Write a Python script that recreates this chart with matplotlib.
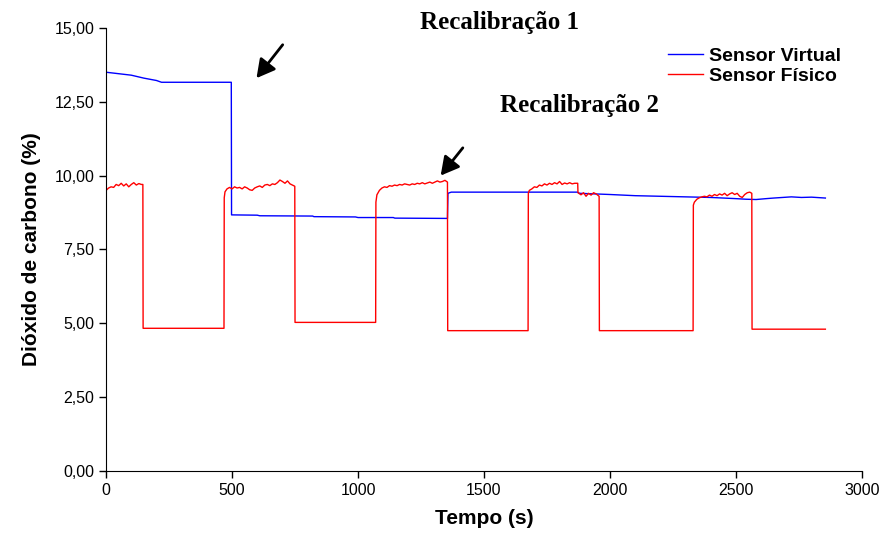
import numpy as np
import matplotlib
matplotlib.use("Agg")
import matplotlib.pyplot as plt

# Sensor virtual (blue) - time (s) and CO2 (%)
t_virtual = [0, 50, 100, 150, 200, 220, 497, 498, 600, 610, 820, 825, 990, 1000,
             1140, 1146, 1355, 1357, 1370, 1870, 1880, 2000, 2100, 2300, 2400,
             2500, 2540, 2580, 2620, 2650, 2720, 2760, 2800, 2855]
co2_virtual = [13.50, 13.45, 13.40, 13.30, 13.22, 13.16, 13.16, 8.67, 8.66, 8.64,
               8.63, 8.61, 8.60, 8.58, 8.58, 8.56, 8.55, 9.40, 9.44, 9.44, 9.40,
               9.36, 9.32, 9.28, 9.26, 9.22, 9.20, 9.19, 9.22, 9.24, 9.28, 9.26,
               9.27, 9.24]

# Sensor fisico (red)
t_fisico = [0, 10, 20, 30, 40, 50, 60, 70, 80, 90, 100, 110, 120, 130, 140, 146,
            147, 468,
            469, 472, 480, 490, 500, 510, 520, 530, 540, 550, 560, 570, 580, 590,
            600, 610, 620, 630, 640, 650, 660, 670, 680, 690, 700, 710, 720, 730,
            740, 749,
            750, 1070,
            1071, 1075, 1085, 1095, 1105, 1115, 1125, 1135, 1145, 1155, 1165, 1175,
            1185, 1195, 1205, 1215, 1225, 1235, 1245, 1255, 1265, 1275, 1285, 1295,
            1305, 1315, 1325, 1335, 1345, 1355,
            1356, 1675,
            1676, 1680, 1690, 1700, 1710, 1720, 1730, 1740, 1750, 1760, 1770, 1780,
            1790, 1800, 1810, 1820, 1830, 1840, 1850, 1860, 1872,
            1873, 1885, 1895, 1905, 1915, 1925, 1935, 1945, 1957,
            1958, 2330,
            2331, 2335, 2345, 2355, 2365, 2375, 2385, 2395, 2405, 2415, 2425, 2435,
            2445, 2455, 2465, 2475, 2485, 2495, 2505, 2515, 2525, 2535, 2545, 2555,
            2563,
            2564, 2855]
co2_fisico = [9.50, 9.58, 9.62, 9.60, 9.70, 9.66, 9.74, 9.65, 9.72, 9.62, 9.70, 9.76,
              9.68, 9.73, 9.70, 9.70,
              4.83, 4.83,
              9.25, 9.45, 9.55, 9.60, 9.55, 9.62, 9.58, 9.60, 9.55, 9.62, 9.58, 9.52,
              9.50, 9.58, 9.62, 9.65, 9.60, 9.68, 9.70, 9.66, 9.72, 9.70, 9.76, 9.85,
              9.80, 9.74, 9.82, 9.72, 9.68, 9.64,
              5.03, 5.03,
              9.10, 9.35, 9.50, 9.58, 9.62, 9.60, 9.66, 9.64, 9.68, 9.66, 9.70, 9.68,
              9.72, 9.70, 9.68, 9.72, 9.70, 9.74, 9.72, 9.76, 9.72, 9.75, 9.78, 9.74,
              9.78, 9.82, 9.78, 9.80, 9.84, 9.78,
              4.75, 4.75,
              9.40, 9.50, 9.55, 9.62, 9.60, 9.68, 9.65, 9.72, 9.68, 9.74, 9.70, 9.76,
              9.72, 9.80, 9.70, 9.75, 9.72, 9.76, 9.72, 9.74, 9.74,
              9.42, 9.35, 9.42, 9.30, 9.40, 9.34, 9.42, 9.38, 9.30,
              4.75, 4.75,
              9.00, 9.10, 9.20, 9.25, 9.28, 9.30, 9.28, 9.34, 9.30, 9.36, 9.32, 9.38,
              9.34, 9.40, 9.32, 9.38, 9.42, 9.36, 9.40, 9.30, 9.26, 9.36, 9.42, 9.44,
              9.40,
              4.80, 4.80]

y_ticks = [0, 2.5, 5, 7.5, 10, 12.5, 15]
y_tick_labels = ["0,00", "2,50", "5,00", "7,50", "10,00", "12,50", "15,00"]
x_ticks = [0, 500, 1000, 1500, 2000, 2500, 3000]

plt.rcParams['font.family'] = ['Liberation Sans', 'DejaVu Sans']

fig = plt.figure(figsize=(8.84, 5.37), dpi=100)
ax = fig.add_axes([0.12, 0.123, 0.855, 0.825])

ax.plot(t_virtual, co2_virtual, color="#0000ff", lw=1.0, label="Sensor Virtual")
ax.plot(t_fisico, co2_fisico, color="#ff0000", lw=1.0, label="Sensor Físico")

ax.set_xlim(0, 3000)
ax.set_ylim(0, 15)
ax.set_xticks(x_ticks)
ax.set_yticks(y_ticks)
ax.set_yticklabels(y_tick_labels)
ax.tick_params(labelsize=11.5, length=5, width=1, direction="out", color="black")
ax.spines["top"].set_visible(False)
ax.spines["right"].set_visible(False)

ax.set_xlabel("Tempo (s)", fontsize=15, fontweight="bold", labelpad=8)
ax.set_ylabel("Dióxido de carbono (%)", fontsize=15, fontweight="bold", labelpad=10)

leg = ax.legend(loc="upper left", bbox_to_anchor=(0.72, 0.995), frameon=False,
                fontsize=14, handlelength=1.8, handletextpad=0.3,
                labelspacing=0.1)
for txt in leg.get_texts():
    txt.set_fontweight("bold")

serif = ['Liberation Serif', 'DejaVu Serif']
ax.text(1563, 15.2, "Recalibração 1", family=serif, fontsize=18, fontweight="bold",
        ha="center", va="center", clip_on=False)
ax.text(1881, 12.36, "Recalibração 2", family=serif, fontsize=18, fontweight="bold",
        ha="center", va="center")

arrow = dict(arrowstyle="-|>,head_length=0.55,head_width=0.3", lw=2.0,
             color="black", mutation_scale=20, shrinkA=0, shrinkB=0)
ax.annotate("", xy=(597, 13.30), xytext=(701, 14.43), arrowprops=arrow)
ax.annotate("", xy=(1328, 10.00), xytext=(1416, 10.94), arrowprops=arrow)

fig.savefig("out.png", dpi=100)
